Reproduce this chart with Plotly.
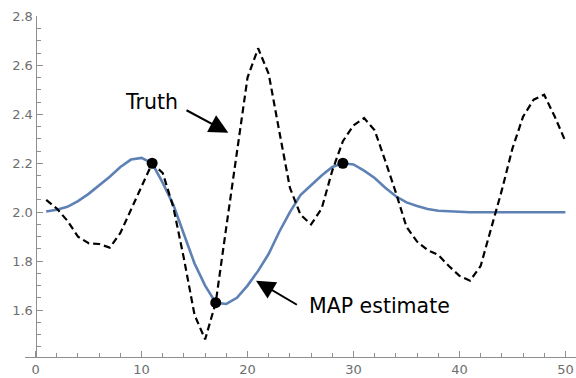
import plotly.graph_objects as go

x_vals = list(range(1, 51))
truth = [2.05, 2.015, 1.965, 1.90, 1.873, 1.87, 1.855, 1.915, 2.01, 2.105,
         2.20, 2.16, 2.02, 1.81, 1.58, 1.48, 1.63, 1.94, 2.245, 2.55,
         2.67, 2.565, 2.33, 2.10, 1.99, 1.95, 2.015, 2.17, 2.29, 2.355,
         2.385, 2.335, 2.21, 2.08, 1.94, 1.88, 1.845, 1.825, 1.78, 1.74,
         1.72, 1.78, 1.935, 2.09, 2.26, 2.39, 2.46, 2.48, 2.39, 2.29]
map_est = [2.003, 2.01, 2.022, 2.045, 2.075, 2.11, 2.145, 2.185, 2.215, 2.222,
           2.20, 2.12, 2.03, 1.91, 1.79, 1.70, 1.63, 1.625, 1.65, 1.70,
           1.76, 1.83, 1.92, 2.00, 2.07, 2.11, 2.15, 2.185, 2.20, 2.195,
           2.17, 2.14, 2.10, 2.065, 2.04, 2.025, 2.013, 2.006, 2.003, 2.001,
           2.0, 2.0, 2.0, 2.0, 2.0, 2.0, 2.0, 2.0, 2.0, 2.0]
obs_x = [11, 17, 29]
obs_y = [2.2, 1.63, 2.2]

x_ticks = [0, 10, 20, 30, 40, 50]
y_ticks = [1.6, 1.8, 2.0, 2.2, 2.4, 2.6, 2.8]

XMIN, XMAX = -1, 51
YMIN, YMAX = 1.408, 2.802

axis_col = "#8f8f8f"
lab_col = "#6e6e6e"

fig = go.Figure()
fig.add_trace(go.Scatter(x=x_vals, y=map_est, mode="lines",
                         line=dict(color="#5E81B5", width=2.6), showlegend=False))
fig.add_trace(go.Scatter(x=x_vals, y=truth, mode="lines",
                         line=dict(color="black", width=2.2, dash="7px,4px"), showlegend=False))
fig.add_trace(go.Scatter(x=obs_x, y=obs_y, mode="markers",
                         marker=dict(color="black", size=11), showlegend=False))

lab_font = dict(family="DejaVu Sans", size=20.5, color="black")
fig.add_annotation(x=10.96, y=2.451, text="Truth", showarrow=False, font=lab_font,
                   xref="x", yref="y")
fig.add_annotation(x=32.5, y=1.618, text="MAP estimate", showarrow=False, font=lab_font,
                   xref="x", yref="y")
fig.add_annotation(x=18.19, y=2.325, ax=14.1, ay=2.42, axref="x", ayref="y",
                   xref="x", yref="y", text="", showarrow=True,
                   arrowhead=2, arrowsize=1.9, arrowwidth=2, arrowcolor="black")
fig.add_annotation(x=20.8, y=1.72, ax=24.8, ay=1.618, axref="x", ayref="y",
                   xref="x", yref="y", text="", showarrow=True,
                   arrowhead=2, arrowsize=1.9, arrowwidth=2, arrowcolor="black")

tick_font = dict(family="DejaVu Sans", size=13, color=lab_col)
fig.update_layout(
    width=576, height=378,
    margin=dict(l=25, r=0, t=16, b=21),
    paper_bgcolor="white", plot_bgcolor="white",
    xaxis=dict(range=[XMIN, XMAX], tickvals=x_ticks, ticks="inside", ticklen=6,
               tickcolor=axis_col, tickwidth=1, showline=True, linecolor=axis_col,
               linewidth=1.2, showgrid=False, zeroline=False, tickfont=tick_font,
               ticklabeloverflow="allow",
               minor=dict(dtick=2, tick0=0, ticks="inside", ticklen=4, tickcolor=axis_col,
                          showgrid=False)),
    yaxis=dict(range=[YMIN, YMAX], tickvals=y_ticks, tickformat=".1f", ticks="inside",
               ticklen=6, tickcolor=axis_col, tickwidth=1, showline=True,
               linecolor=axis_col, linewidth=1.2, showgrid=False, zeroline=False,
               anchor="free", position=(0 - XMIN) / (XMAX - XMIN), automargin=False,
               tickfont=tick_font, ticklabeloverflow="allow",
               minor=dict(dtick=0.05, tick0=1.6, ticks="inside", ticklen=4,
                          tickcolor=axis_col, showgrid=False)),
)

fig.write_html("out.html", config={"displayModeBar": False},
               post_script="document.body.style.margin='0';")
